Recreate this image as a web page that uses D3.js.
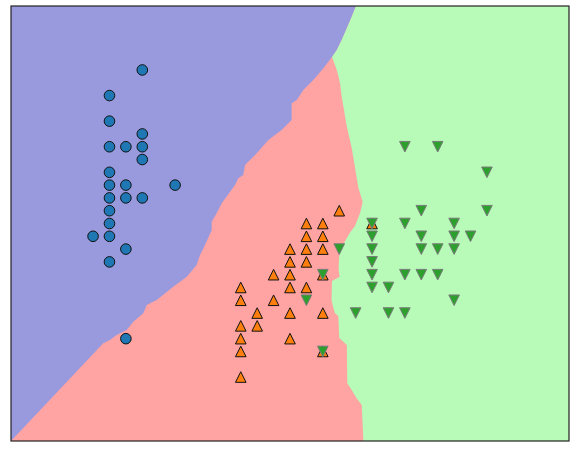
<!DOCTYPE html>
<html>
<head>
<meta charset="utf-8">
<script src="https://cdn.jsdelivr.net/npm/d3@7"></script>
<style>
  html, body { margin: 0; padding: 0; background: #ffffff; }
  svg { display: block; }
</style>
</head>
<body>
<svg id="chart" width="575" height="452"></svg>
<script>
// Iris samples: [petal width, sepal width]
const setosa = [
  [0.4, 4.4], [0.2, 4.2], [0.2, 4.0], [0.4, 3.9], [0.2, 3.8], [0.3, 3.8],
  [0.4, 3.8], [0.4, 3.7], [0.2, 3.6], [0.2, 3.5], [0.3, 3.5], [0.6, 3.5],
  [0.2, 3.4], [0.3, 3.4], [0.4, 3.4], [0.2, 3.3], [0.2, 3.2], [0.1, 3.1],
  [0.2, 3.1], [0.3, 3.0], [0.2, 2.9], [0.3, 2.3]
];
const versicolor = [
  [1.6, 3.3], [1.4, 3.2], [1.5, 3.2], [1.8, 3.2], [1.4, 3.1], [1.5, 3.1],
  [1.3, 3.0], [1.4, 3.0], [1.5, 3.0], [1.3, 2.9], [1.4, 2.9], [1.2, 2.8],
  [1.3, 2.8], [1.5, 2.8], [1.0, 2.7], [1.3, 2.7], [1.4, 2.7], [1.0, 2.6],
  [1.2, 2.6], [1.1, 2.5], [1.3, 2.5], [1.5, 2.5], [1.0, 2.4], [1.1, 2.4],
  [1.0, 2.3], [1.3, 2.3], [1.0, 2.2], [1.5, 2.2], [1.0, 2.0]
];
const virginica = [
  [2.0, 3.8], [2.2, 3.8], [2.5, 3.6], [2.1, 3.3], [2.5, 3.3], [1.8, 3.2],
  [2.0, 3.2], [2.3, 3.2], [1.8, 3.1], [2.1, 3.1], [2.3, 3.1], [2.4, 3.1],
  [1.6, 3.0], [1.8, 3.0], [2.1, 3.0], [2.2, 3.0], [2.3, 3.0], [1.8, 2.9],
  [1.5, 2.8], [1.8, 2.8], [2.0, 2.8], [2.1, 2.8], [2.2, 2.8], [1.8, 2.7],
  [1.9, 2.7], [1.4, 2.6], [2.3, 2.6], [1.7, 2.5], [1.9, 2.5], [2.0, 2.5],
  [1.5, 2.2]
];

// Mesh extent of the decision surface
const xExtent = [-0.4, 3.0];
const yExtent = [1.5, 4.9];

// Decision boundaries of the classifier, in data units
const blueRedEdge = [
  [-0.4, 1.5], [0.162, 2.264], [0.203, 2.289], [0.244, 2.328], [0.305, 2.368],
  [0.345, 2.432], [0.406, 2.498], [0.427, 2.563], [0.488, 2.602], [0.589, 2.706],
  [0.671, 2.784], [0.731, 2.876], [0.752, 2.954], [0.782, 3.032], [0.823, 3.149],
  [0.823, 3.214], [0.853, 3.280], [0.884, 3.358], [0.965, 3.501], [0.985, 3.553],
  [1.015, 3.579], [1.026, 3.657], [1.097, 3.749], [1.168, 3.853], [1.249, 3.931],
  [1.310, 4.009], [1.310, 4.139], [1.341, 4.165], [1.381, 4.243], [1.442, 4.322],
  [1.503, 4.413], [1.556, 4.501]
];
const blueGreenEdge = [
  [1.556, 4.501], [1.585, 4.556], [1.615, 4.634], [1.646, 4.726], [1.676, 4.816],
  [1.702, 4.9]
];
const redGreenEdge = [
  [1.556, 4.501], [1.585, 4.400], [1.605, 4.296], [1.615, 4.191], [1.629, 4.087],
  [1.644, 3.970], [1.655, 3.907], [1.676, 3.790], [1.696, 3.638], [1.716, 3.481],
  [1.743, 3.368], [1.727, 3.282], [1.696, 3.180], [1.666, 3.130], [1.646, 3.087],
  [1.623, 3.032], [1.605, 2.977], [1.599, 2.938], [1.596, 2.837], [1.602, 2.784],
  [1.556, 2.751], [1.553, 2.602], [1.564, 2.540], [1.574, 2.498], [1.594, 2.477],
  [1.600, 2.305], [1.625, 2.276], [1.646, 2.250], [1.649, 1.951], [1.676, 1.899],
  [1.706, 1.834], [1.737, 1.781], [1.747, 1.5]
];

const svg = d3.select("#chart");
const margin = { left: 11, right: 6, top: 6, bottom: 11 };
const W = +svg.attr("width"), H = +svg.attr("height");

const x = d3.scaleLinear().domain(xExtent).range([margin.left, W - margin.right]);
const y = d3.scaleLinear().domain(yExtent).range([H - margin.bottom, margin.top]);

const line = d3.line().x(d => x(d[0])).y(d => y(d[1]));

// Region fills
const regions = svg.append("g");
regions.append("rect")
  .attr("x", x(xExtent[0])).attr("y", y(yExtent[1]))
  .attr("width", x(xExtent[1]) - x(xExtent[0]))
  .attr("height", y(yExtent[0]) - y(yExtent[1]))
  .attr("fill", "#ffa3a3");

const bluePoly = blueRedEdge.concat(blueGreenEdge.slice(1), [[xExtent[0], yExtent[1]]]);
regions.append("path")
  .attr("d", line(bluePoly) + "Z")
  .attr("fill", "#999ade");

const greenPoly = [[xExtent[1], yExtent[1]], [xExtent[1], yExtent[0]]]
  .concat(redGreenEdge.slice().reverse(), blueGreenEdge.slice(1));
regions.append("path")
  .attr("d", line(greenPoly) + "Z")
  .attr("fill", "#b8fab8");

// Markers
const size = 10.6;
const triUp = `M0,${-size / 2}L${size / 2},${size / 2}L${-size / 2},${size / 2}Z`;
const triDown = `M0,${size / 2}L${size / 2},${-size / 2}L${-size / 2},${-size / 2}Z`;

svg.append("g").selectAll("circle")
  .data(setosa).join("circle")
  .attr("cx", d => x(d[0])).attr("cy", d => y(d[1]))
  .attr("r", size / 2)
  .attr("fill", "#1f77b4").attr("stroke", "#111").attr("stroke-width", 1);

svg.append("g").selectAll("path")
  .data(versicolor).join("path")
  .attr("transform", d => `translate(${x(d[0])},${y(d[1])})`)
  .attr("d", triUp)
  .attr("fill", "#ff7f0e").attr("stroke", "#111").attr("stroke-width", 1);

svg.append("g").selectAll("path")
  .data(virginica).join("path")
  .attr("transform", d => `translate(${x(d[0])},${y(d[1])})`)
  .attr("d", triDown)
  .attr("fill", "#2ca02c").attr("stroke", "#7a7a7a").attr("stroke-width", 1);

// Axes frame
svg.append("rect")
  .attr("x", x(xExtent[0])).attr("y", y(yExtent[1]))
  .attr("width", x(xExtent[1]) - x(xExtent[0]))
  .attr("height", y(yExtent[0]) - y(yExtent[1]))
  .attr("fill", "none").attr("stroke", "#222").attr("stroke-width", 1.2);
</script>
</body>
</html>
